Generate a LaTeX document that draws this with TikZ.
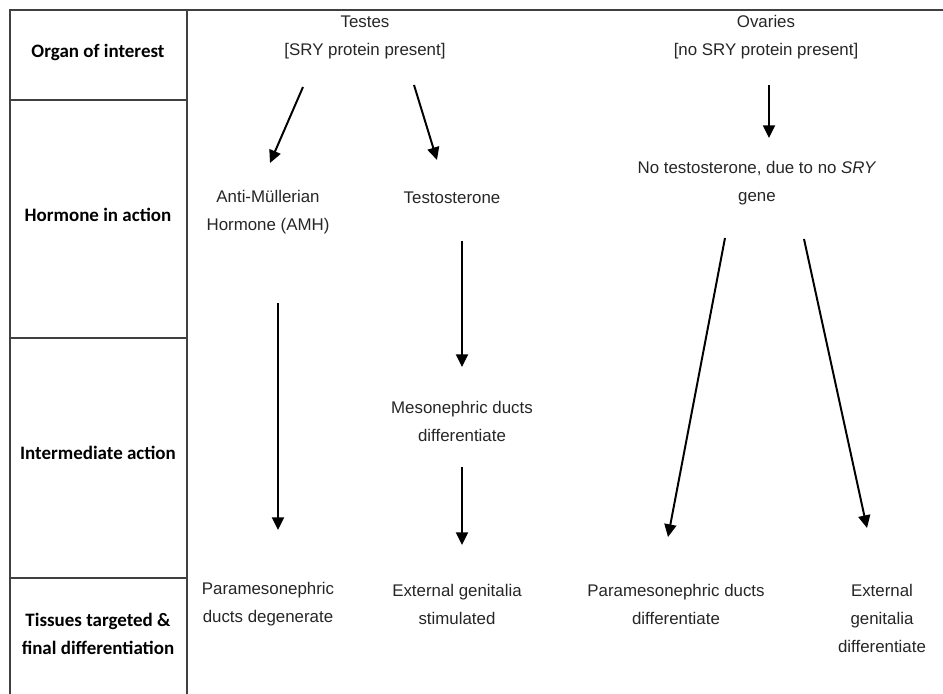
\documentclass[tikz,border=0pt]{standalone}
\usepackage{fontspec}
\setmainfont{Liberation Sans}
\newfontfamily\headfont{Carlito}
\usetikzlibrary{arrows.meta}

\begin{document}
\begin{tikzpicture}[x=0.025cm, y=-0.025cm,
  grid/.style = {draw=black!75, line width=0.9pt},
  txt/.style = {align=center, inner sep=0, text=black!85, font=\fontsize{12}{19.9}\selectfont},
  head/.style = {align=center, inner sep=0, font=\headfont\bfseries\fontsize{13.5}{19.9}\selectfont},
  arr/.style = {-{Triangle[length=9pt,width=8.5pt]}, line width=1.4pt}]
	\useasboundingbox (0,0) rectangle (943,694);
	\draw[grid] (943,10) -- (10,10) -- (10,694);
	\draw[grid] (187,10) -- (187,694);
	\draw[grid] (10,100) -- (187,100);
	\draw[grid] (10,338) -- (187,338);
	\draw[grid] (10,578) -- (187,578);
	\node[head] (organ) at (98,52) {Organ of interest};
	\node[head] (hormone) at (98,215) {Hormone in action};
	\node[head] (inter) at (98,453) {Intermediate action};
	\node[head] (tissue) at (98,634) {Tissues targeted \&\\final differentiation};
	\node[txt] (testes) at (365,37) {Testes\\{[}SRY protein present{]}};
	\node[txt] (ovaries) at (766,37) {Ovaries\\{[}no SRY protein present{]}};
	\node[txt] (amh) at (268,212) {Anti-Müllerian\\Hormone (AMH)};
	\node[txt] (testo) at (452,198) {Testosterone};
	\node[txt] (notesto) at (757,183) {No testosterone, due to no \textit{SRY}\\gene};
	\node[txt] (meso) at (462,421) {Mesonephric ducts\\differentiate};
	\node[txt] (paradeg) at (268,604) {Paramesonephric\\ducts degenerate};
	\node[txt] (extstim) at (457,604) {External genitalia\\stimulated};
	\node[txt] (paradiff) at (676,604) {Paramesonephric ducts\\differentiate};
	\node[txt] (extdiff) at (882,618) {External\\genitalia\\differentiate};
	\coordinate (testes-l) at (303,87);
	\coordinate (amh-in) at (270,163);
	\coordinate (testes-r) at (414,85);
	\coordinate (testo-in) at (437,160);
	\coordinate (ovaries-out) at (769,85);
	\coordinate (notesto-in) at (769,138);
	\coordinate (amh-out) at (278,303);
	\coordinate (paradeg-in) at (278,530);
	\coordinate (testo-out) at (462,241);
	\coordinate (meso-in) at (462,367);
	\coordinate (meso-out) at (462,467);
	\coordinate (extstim-in) at (462,545);
	\coordinate (notesto-l) at (725,238);
	\coordinate (paradiff-in) at (668,537);
	\coordinate (notesto-r) at (804,239);
	\coordinate (extdiff-in) at (867,528);
	\draw[arr] (testes-l) -- (amh-in);
	\draw[arr] (testes-r) -- (testo-in);
	\draw[arr] (ovaries-out) -- (notesto-in);
	\draw[arr] (amh-out) -- (paradeg-in);
	\draw[arr] (testo-out) -- (meso-in);
	\draw[arr] (meso-out) -- (extstim-in);
	\draw[arr] (notesto-l) -- (paradiff-in);
	\draw[arr] (notesto-r) -- (extdiff-in);
\end{tikzpicture}
\end{document}
